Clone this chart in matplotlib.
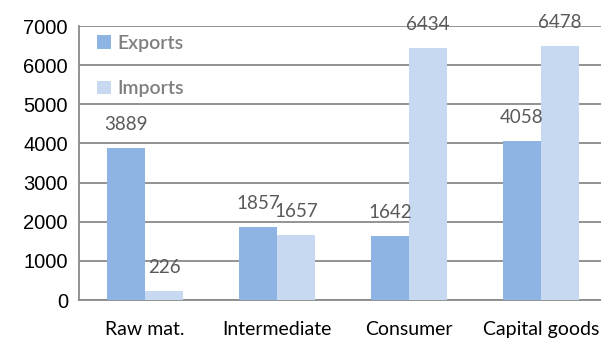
import matplotlib
matplotlib.use("Agg")
import matplotlib.pyplot as plt
import numpy as np

categories = ["Raw mat.", "Intermediate", "Consumer", "Capital goods"]
exports = [3889, 1857, 1642, 4058]
imports = [226, 1657, 6434, 6478]
yticks = [0, 1000, 2000, 3000, 4000, 5000, 6000, 7000]

c_exp = "#8EB4E3"
c_imp = "#C6D9F1"
grid_c = "#8A8A8A"

fig = plt.figure(figsize=(6.01, 3.38), dpi=100)
ax = fig.add_axes([79 / 601, 1 - 300 / 338, (607 - 79) / 601, 274 / 338])

x = np.arange(len(categories))
w = 38 / 132
b1 = ax.bar(x - w / 2, exports, w, color=c_exp, label="Exports", zorder=3)
b2 = ax.bar(x + w / 2, imports, w, color=c_imp, label="Imports", zorder=3)

ax.set_xlim(-0.5, len(categories) - 0.5)
ax.set_ylim(0, 7000)
ax.set_yticks(yticks)
ax.set_yticklabels([str(t) for t in yticks], fontsize=14.5, family="Liberation Sans")
ax.set_xticks(x)
ax.set_xticklabels(categories, fontsize=14, family="Lato")
ax.tick_params(axis="both", length=0, colors="black")
ax.tick_params(axis="y", pad=8)
ax.tick_params(axis="x", pad=15)

ax.yaxis.grid(True, color=grid_c, linewidth=1.3, zorder=0)
for s in ["top", "right"]:
    ax.spines[s].set_visible(False)
for s in ["left", "bottom"]:
    ax.spines[s].set_color(grid_c)
    ax.spines[s].set_linewidth(1.3)

for bars, vals in [(b1, exports), (b2, imports)]:
    for r, v in zip(bars, vals):
        ax.annotate(str(v), (r.get_x() + r.get_width() / 2, v),
                    xytext=(0, 17), textcoords="offset points",
                    ha="center", va="center", fontsize=13.5, color="#595959",
                    family="Lato", annotation_clip=False)

leg = ax.legend(loc="upper left", bbox_to_anchor=(97 / 601, 1 - 35 / 338),
                bbox_transform=fig.transFigure, frameon=False,
                prop={"family": "Lato", "size": 14, "weight": "semibold"},
                handlelength=0.7, handleheight=0.7, handletextpad=0.35,
                labelspacing=1.45, borderaxespad=0, borderpad=0)
for t in leg.get_texts():
    t.set_color("#7F7F7F")

fig.savefig("out.png", dpi=100)
